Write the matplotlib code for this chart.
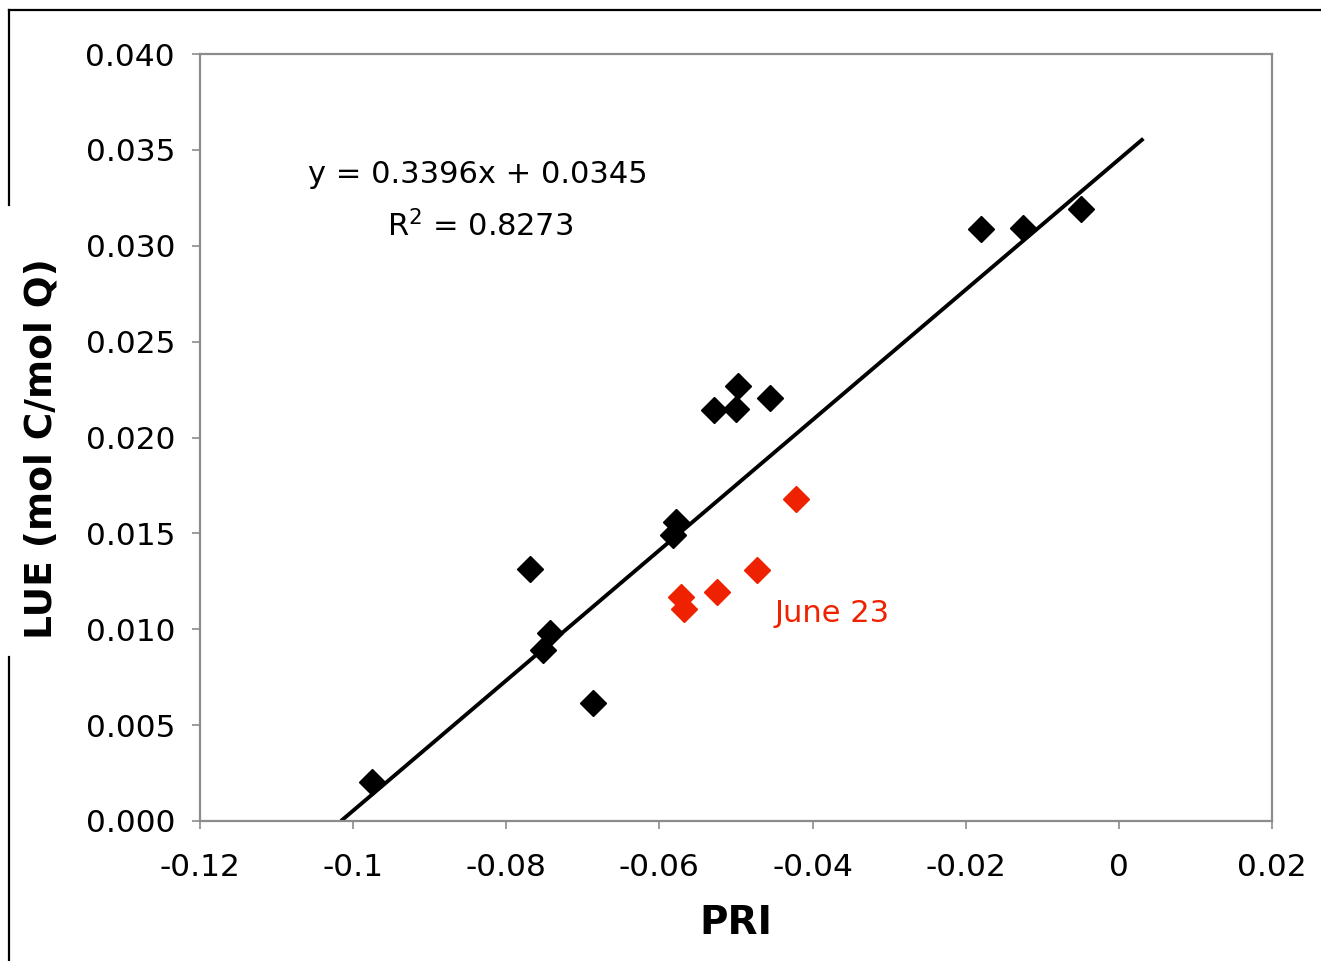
import matplotlib
matplotlib.use("Agg")
import matplotlib.pyplot as plt
from matplotlib.lines import Line2D

plt.rcParams['font.family'] = ['DejaVu Sans']

# PRI vs light-use efficiency
pri_all = [-0.0975, -0.0769, -0.0743, -0.0752, -0.0687, -0.0578, -0.0582,
           -0.0529, -0.0500, -0.0497, -0.0456, -0.0180, -0.0125, -0.0049]
lue_all = [0.00203, 0.01314, 0.00980, 0.00892, 0.00615, 0.01560, 0.01490,
           0.02143, 0.02149, 0.02269, 0.02206, 0.03087, 0.03093, 0.03192]

pri_june23 = [-0.0422, -0.0473, -0.0525, -0.0572, -0.0568]
lue_june23 = [0.01679, 0.01309, 0.01194, 0.01168, 0.01106]

slope, intercept = 0.3396, 0.0345
fit_x_end = 0.0032

x_ticks = [-0.12, -0.10, -0.08, -0.06, -0.04, -0.02, 0.0, 0.02]
x_tick_labels = ["-0.12", "-0.1", "-0.08", "-0.06", "-0.04", "-0.02", "0", "0.02"]
y_ticks = [0.000, 0.005, 0.010, 0.015, 0.020, 0.025, 0.030, 0.035, 0.040]
y_tick_labels = ["%.3f" % v for v in y_ticks]

W, H = 1321, 961
fig = plt.figure(figsize=(W / 100, H / 100), dpi=100)
ax = fig.add_axes([200 / W, (H - 821) / H, 1072 / W, 767 / H])

red = "#EE2200"
ax.plot(pri_all, lue_all, linestyle="none", marker="D", markersize=13.5,
        color="black", zorder=3)
ax.plot(pri_june23, lue_june23, linestyle="none", marker="D", markersize=13.5,
        color=red, zorder=3)

x0 = -intercept / slope
ax.plot([x0, fit_x_end], [slope * x0 + intercept, slope * fit_x_end + intercept],
        color="black", linewidth=2.8, zorder=2, solid_capstyle="butt")

ax.set_xlim(-0.12, 0.02)
ax.set_ylim(0.0, 0.04)
ax.set_xticks(x_ticks)
ax.set_xticklabels(x_tick_labels)
ax.set_yticks(y_ticks)
ax.set_yticklabels(y_tick_labels)

for s in ax.spines.values():
    s.set_color("#8c8c8c")
    s.set_linewidth(1.6)
ax.tick_params(axis="both", direction="out", length=6, width=1.2,
               color="#8c8c8c", labelsize=22.5, labelcolor="black")
ax.tick_params(axis="x", pad=17)
ax.tick_params(axis="y", pad=12)

ax.text(-0.1059, 0.0337, "y = 0.3396x + 0.0345", fontsize=22,
        ha="left", va="center")
ax.text(-0.0956, 0.0310, "R$^2$ = 0.8273", fontsize=22,
        ha="left", va="center")
ax.text(-0.0449, 0.0108, "June 23", fontsize=22, color=red,
        ha="left", va="center")

fig.text(736 / W, 1 - 923 / H, "PRI", fontsize=28, fontweight="bold",
         ha="center", va="center")
fig.text(42 / W, 1 - 449 / H, "LUE (mol C/mol Q)", fontsize=27,
         fontweight="bold", rotation=90, ha="center", va="center")

# outer frame pieces
frame_kw = dict(color="black", linewidth=1.6, transform=fig.transFigure)
fig.add_artist(Line2D([9 / W, 1.0], [1 - 10 / H, 1 - 10 / H], **frame_kw))
fig.add_artist(Line2D([9 / W, 9 / W], [1 - 10 / H, 1 - 205 / H], **frame_kw))
fig.add_artist(Line2D([9 / W, 9 / W], [1 - 657 / H, 0.0], **frame_kw))

fig.savefig("out.png", dpi=100)
